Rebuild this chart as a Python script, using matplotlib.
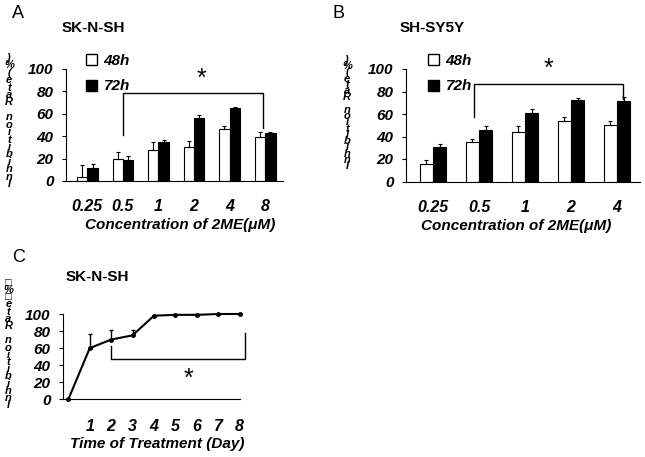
import numpy as np
import matplotlib
matplotlib.use("Agg")
import matplotlib.pyplot as plt
from matplotlib.patches import Patch

plt.rcParams['font.family'] = ['Liberation Sans', 'DejaVu Sans']

"============================================================================"
"1|DATA"
# Panel A: SK-N-SH, inhibition rate by concentration
conc_a   = ['0.25', '0.5', '1', '2', '4', '8']
a_48     = [4, 20, 28, 30, 46, 39]
a_48_err = [10, 5.5, 7, 5.5, 3, 5]
a_72     = [12, 19, 35, 56, 65, 43]
a_72_err = [3, 3.5, 2, 2.5, 1, 0.5]
sig_a    = dict(x=(1, 4.95), low=(41, 47), high=79, star=(3.2, 91))

# Panel B: SH-SY5Y
conc_b   = ['0.25', '0.5', '1', '2', '4']
b_48     = [16, 35.5, 44, 54, 50]
b_48_err = [3.5, 2.5, 5.5, 3, 4]
b_72     = [31, 45.5, 60.5, 72.5, 71.5]
b_72_err = [2.5, 4, 4, 2, 4]
sig_b    = dict(x=(0.9, 4.13), low=(57, 73), high=86.6, star=(2.52, 100))

# Panel C: SK-N-SH, inhibition rate by day
days     = [0, 1, 2, 3, 4, 5, 6, 7, 8]
c_rate   = [0, 60, 70, 75, 98, 99, 99, 100, 100]
c_err    = [0, 17, 11, 6.5, 0, 0, 0, 0, 0]
sig_c    = dict(x=(2, 8.25), low=(63, 78), high=47, star=(5.6, 24))

yticks = [0, 20, 40, 60, 80, 100]

"============================================================================"
"2|HELPERS"
W, H = 645, 457
fig = plt.figure(figsize=(W/100, H/100), dpi=100)
BI = dict(fontweight='bold', fontstyle='italic')

def px_rect(left, top, right, bottom):
    return [left/W, 1 - bottom/H, (right - left)/W, (bottom - top)/H]

def style_axis(ax, xlabel, label_y):
    ax.spines[['top', 'right']].set_visible(False)
    ax.set_ylim(0, 100)
    ax.set_yticks(yticks, labels=[str(t) for t in yticks], fontsize=11, **BI)
    ax.tick_params(axis='y', direction='out', length=3, pad=6)
    ax.tick_params(axis='x', length=0, pad=13)
    ax.set_xlabel(xlabel, fontsize=11, **BI)
    ax.xaxis.set_label_coords(label_y[0], label_y[1])

def bracket(ax, s):
    x0, x1 = s['x']
    ax.plot([x0, x0, x1, x1], [s['low'][0], s['high'], s['high'], s['low'][1]],
            color='black', lw=1, clip_on=False)
    ax.text(*s['star'], '*', ha='center', va='center', fontsize=18)

def stacked_label(x, center, spacing, text):
    # characters stacked bottom-to-top, each one upright
    fig.text(x/W, 1 - center/H, '\n'.join(text[::-1]), ha='center', va='center',
             fontsize=8, linespacing=spacing, multialignment='center',
             family=['Liberation Sans', 'DejaVu Sans'], **BI)

def bar_panel(rect, cats, v48, e48, v72, e72, xlim, leg_xy):
    ax = fig.add_axes(rect)
    x = np.arange(len(cats))
    w = 0.29
    ekw = dict(elinewidth=0.8, capsize=1.5, capthick=0.8, ecolor='black')
    ax.bar(x - w/2, v48, w, color='white', edgecolor='black', lw=0.8,
           yerr=[np.zeros(len(x)), e48], error_kw=ekw)
    ax.bar(x + w/2, v72, w, color='black', edgecolor='black', lw=0.8,
           yerr=[np.zeros(len(x)), e72], error_kw=ekw)
    ax.set_xticks(x, labels=cats, fontsize=11.5, **BI)
    ax.set_xlim(*xlim)
    handles = [Patch(facecolor='white', edgecolor='black', label='48h'),
               Patch(facecolor='black', edgecolor='black', label='72h')]
    ax.legend(handles=handles, loc='upper left', frameon=False,
              bbox_to_anchor=(leg_xy[0]/W, 1 - leg_xy[1]/H),
              bbox_transform=fig.transFigure,
              prop=dict(size=11, weight='bold', style='italic'),
              handlelength=0.75, handleheight=0.75, handletextpad=0.4,
              labelspacing=0.75, borderpad=0, borderaxespad=0)
    return ax

"============================================================================"
"3|PANEL A"
axA = bar_panel(px_rect(66, 69, 283, 181), conc_a, a_48, a_48_err, a_72, a_72_err,
                (-0.6, 5.5), (86, 54))
style_axis(axA, 'Concentration of 2ME(μM)', (0.525, -0.33))
bracket(axA, sig_a)
fig.text(12/W, 1 - 14/H, 'A', fontsize=13, va='center')
fig.text(62/W, 1 - 28/H, 'SK-N-SH', fontsize=11, fontweight='bold', va='center')
stacked_label(9, 121, 0.68, 'Inhibition Rate(%)')

"============================================================================"
"4|PANEL B"
axB = bar_panel(px_rect(406, 69, 640, 181.5), conc_b, b_48, b_48_err, b_72, b_72_err,
                (-0.59, 4.5), (428, 54))
style_axis(axB, 'Concentration of 2ME(μM)', (0.47, -0.33))
bracket(axB, sig_b)
fig.text(333/W, 1 - 14/H, 'B', fontsize=13, va='center')
fig.text(400/W, 1 - 28/H, 'SH-SY5Y', fontsize=11, fontweight='bold', va='center')
stacked_label(347, 113, 0.53, 'Inhibition Rate(%)')

"============================================================================"
"5|PANEL C"
axC = fig.add_axes(px_rect(63, 314, 240, 399.3))
axC.errorbar(days, c_rate, yerr=[np.zeros(len(days)), c_err], color='black', lw=1.5,
             marker='o', ms=2.5, elinewidth=1, capsize=1.5, capthick=1, clip_on=False)
axC.set_xlim(-0.25, 8.02)
axC.set_xticks(days[1:], labels=[str(d) for d in days[1:]], fontsize=11.5, **BI)
style_axis(axC, 'Time of Treatment (Day)', (0.53, -0.44))
axC.tick_params(axis='x', pad=14)
bracket(axC, sig_c)
fig.text(12/W, 1 - 258/H, 'C', fontsize=13, va='center')
fig.text(66/W, 1 - 277/H, 'SK-N-SH', fontsize=11, fontweight='bold', va='center')
stacked_label(8.5, 344, 0.65, 'Inhibition Rate□%□')

fig.savefig('out.png', dpi=100)
